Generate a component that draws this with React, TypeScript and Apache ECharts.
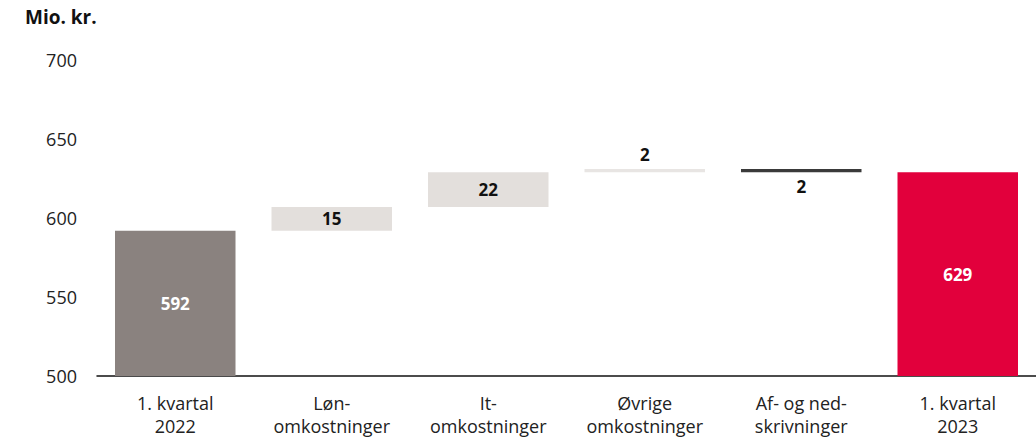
import React, { useEffect, useRef } from "react";
import * as echarts from "echarts";

const categories = [
  "1. kvartal\n2022",
  "Løn-\nomkostninger",
  "It-\nomkostninger",
  "Øvrige\nomkostninger",
  "Af- og ned-\nskrivninger",
  "1. kvartal\n2023",
];
const startValue = 592;
const deltas = [15, 22, 2, -2];
const endValue = 629;
const deltaColors = ["#e3dfdc", "#e3dfdc", "#e8e5e3", "#3a3a3a"];
const yTicks = [500, 550, 600, 650, 700];

export default function App() {
  const ref = useRef<HTMLDivElement>(null);
  useEffect(() => {
    if (!ref.current) return;
    const chart = echarts.init(ref.current, undefined, { renderer: "svg" });
    const font = "'Open Sans', 'Noto Sans', sans-serif";

    const base: number[] = [0];
    const vals: any[] = [];
    vals.push({
      value: startValue,
      itemStyle: { color: "#8a827f" },
      label: { show: true, position: "inside", color: "#fff", formatter: String(startValue) },
    });
    let running = startValue;
    deltas.forEach((d, i) => {
      const lo = d >= 0 ? running : running + d;
      base.push(lo);
      running += d;
      const pos = i === 2 ? "top" : i === 3 ? "bottom" : "inside";
      vals.push({
        value: Math.abs(d),
        itemStyle: { color: deltaColors[i] },
        label: { show: true, position: pos, color: "#111", formatter: String(Math.abs(d)), distance: 6 },
      });
    });
    base.push(0);
    vals.push({
      value: endValue,
      itemStyle: { color: "#e2003c" },
      label: { show: true, position: "inside", color: "#fff", formatter: String(endValue) },
    });

    chart.setOption({
      animation: false,
      textStyle: { fontFamily: font },
      title: {
        text: "Mio. kr.",
        left: 20,
        top: 2,
        textStyle: { fontSize: 19, fontWeight: "bold", color: "#111", fontFamily: font },
      },
      grid: { left: 97, right: 0, top: 60, bottom: 60 },
      xAxis: {
        type: "category",
        data: categories,
        axisTick: { show: false },
        axisLine: { lineStyle: { color: "#111", width: 1.5 } },
        axisLabel: { fontSize: 18, color: "#222", margin: 15, lineHeight: 23, interval: 0 },
      },
      yAxis: {
        type: "value",
        min: yTicks[0],
        max: yTicks[yTicks.length - 1],
        interval: 50,
        splitLine: { show: false },
        axisLine: { show: false },
        axisTick: { show: false },
        axisLabel: { fontSize: 18, color: "#222", margin: 20 },
      },
      series: [
        {
          type: "bar",
          stack: "w",
          data: base,
          itemStyle: { color: "transparent" },
          silent: true,
          barWidth: "77%",
        },
        {
          type: "bar",
          stack: "w",
          data: vals,
          barWidth: "77%",
          label: { fontSize: 17, fontWeight: "bold", fontFamily: font },
        },
      ],
    });
    return () => chart.dispose();
  }, []);
  return <div ref={ref} style={{ width: 1036, height: 437, position: "absolute", left: 0, top: 0 }} />;
}
